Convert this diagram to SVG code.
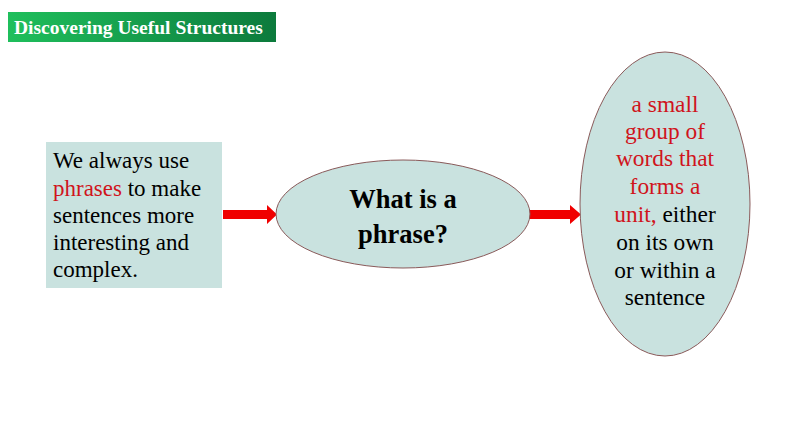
<svg xmlns="http://www.w3.org/2000/svg" width="794" height="447" viewBox="0 0 794 447">
<style>
.body{font-family:"Liberation Serif","Times New Roman",serif;font-size:23px;fill:#000}
.def{font-size:23.4px}
.q{font-size:26.5px;font-weight:bold}
.red{fill:#d0141c}
.node{fill:#c9e2df}
.ell{fill:#c9e2df;stroke:#8a5a5a;stroke-width:1}
.arrow{fill:#f00000}
</style>
<defs>
<linearGradient id="g" x1="0" y1="0" x2="1" y2="0">
<stop offset="0" stop-color="#1fbf5c"/>
<stop offset="1" stop-color="#0c7a3c"/>
</linearGradient>
</defs>
<rect width="794" height="447" fill="#fff"/>
<g id="title">
<rect x="8" y="12" width="268" height="30" fill="url(#g)"/>
<text x="14" y="34" font-family="Liberation Serif,serif" font-weight="bold" font-size="19.5" fill="#fff">Discovering Useful Structures</text>
</g>
<g id="connectors">
<polygon class="arrow" points="223,210 267,210 267,205 277,214.5 267,224 267,219 223,219"/>
<polygon class="arrow" points="528,210 570,210 570,205 581,214.5 570,224 570,219 528,219"/>
</g>
<g id="box">
<rect class="node" x="46" y="142" width="176" height="146"/>
<text class="body" x="53" y="168">We always use</text>
<text class="body" x="53" y="196"><tspan class="red">phrases</tspan> to make</text>
<text class="body" x="53" y="223">sentences more</text>
<text class="body" x="53" y="250">interesting and</text>
<text class="body" x="53" y="277">complex.</text>
</g>
<g id="question">
<ellipse class="ell" cx="403" cy="214" rx="127" ry="54"/>
<text class="body q" x="403" y="208" text-anchor="middle">What is a</text>
<text class="body q" x="403" y="243" text-anchor="middle">phrase?</text>
</g>
<g id="definition">
<ellipse class="ell" cx="665" cy="204" rx="85" ry="152"/>
<g text-anchor="middle">
<text class="body def red" x="665" y="112">a small</text>
<text class="body def red" x="665" y="139">group of</text>
<text class="body def red" x="665" y="166">words that</text>
<text class="body def red" x="665" y="194">forms a</text>
<text class="body def" x="665" y="222"><tspan class="red">unit,</tspan> either</text>
<text class="body def" x="665" y="250">on its own</text>
<text class="body def" x="665" y="278">or within a</text>
<text class="body def" x="665" y="305">sentence</text>
</g>
</g>
</svg>
